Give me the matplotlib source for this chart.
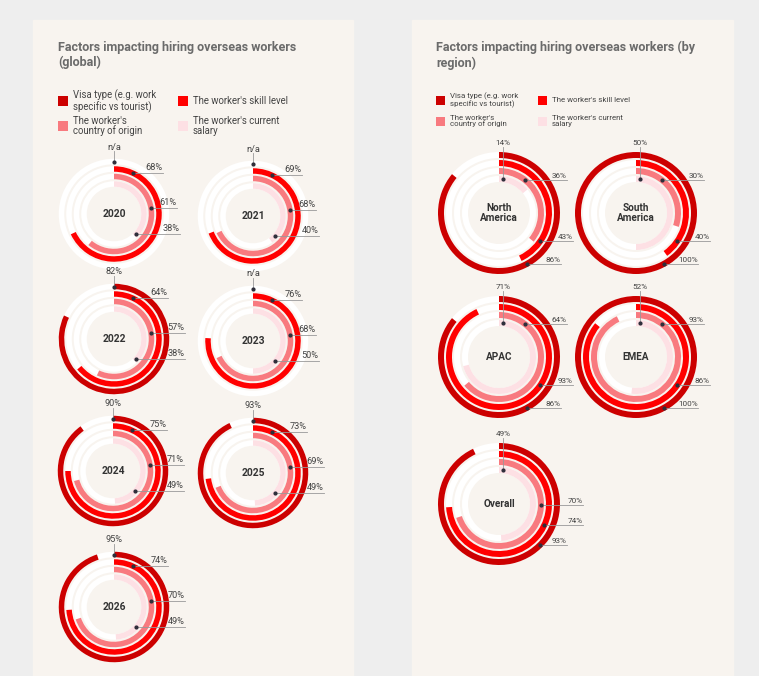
import numpy as np
import matplotlib
matplotlib.use('Agg')
import matplotlib.pyplot as plt
from matplotlib.patches import Wedge, Rectangle

plt.rcParams['font.family'] = ['Roboto', 'DejaVu Sans']

# data (None = n/a)
years = ['2020', '2021', '2022', '2023', '2024', '2025', '2026']
visa_global = [None, None, 82, None, 90, 93, 95]
skill_global = [68, 69, 64, 76, 75, 73, 74]
origin_global = [61, 68, 57, 68, 71, 69, 70]
salary_global = [38, 40, 38, 50, 49, 49, 49]

regions = ['North\nAmerica', 'South\nAmerica', 'APAC', 'EMEA', 'Overall']
visa_region = [86, 100, 86, 100, 93]
skill_region = [43, 40, 93, 86, 74]
origin_region = [36, 30, 64, 93, 70]
salary_region = [14, 50, 71, 52, 49]

series = ['Visa type (e.g. work\nspecific vs tourist)', "The worker's skill level",
          "The worker's\ncountry of origin", "The worker's current\nsalary"]
colors = ['#cc0000', '#ff0000', '#f87a7f', '#fde0e4']

BG = '#eeeeee'
PANEL = '#f8f4ef'
TXT = '#444444'

fig = plt.figure(figsize=(7.59, 6.76), dpi=100, facecolor=BG)
ax = fig.add_axes([0, 0, 1, 1])
ax.set_xlim(0, 759)
ax.set_ylim(676, 0)
ax.axis('off')

ax.add_patch(Rectangle((33, 20), 320, 660, color=PANEL, zorder=0))
ax.add_patch(Rectangle((412, 20), 321, 660, color=PANEL, zorder=0))


def fmt(v):
    return 'n/a' if v is None else f'{v}%'


def radial(cx, cy, vals, mids, width, center_label, top_ring, top_dx, top_dy,
           side_rings, side_dy, side_end, csize, lsize):
    # background tracks + value arcs, drawn clockwise from 12 o'clock
    for v, r, c in zip(vals, mids, colors):
        ax.add_patch(Wedge((cx, cy), r + width / 2, 0, 360, width=width,
                           color='white', lw=0, zorder=1))
        if v:
            ax.add_patch(Wedge((cx, cy), r + width / 2, 270, 270 + 3.6 * v,
                               width=width, color=c, lw=0, zorder=2))
    ax.text(cx, cy, center_label, ha='center', va='center', fontsize=csize,
            color='#333333', fontweight='bold', linespacing=1.0, zorder=5)

    # top label with vertical leader
    r = mids[top_ring]
    ty = cy - np.sqrt(r ** 2 - top_dx ** 2)
    ax.plot([cx + top_dx, cx + top_dx], [cy + top_dy + 4, ty], color='#999999',
            lw=0.6, zorder=3)
    ax.plot(cx + top_dx, ty, 'o', ms=2.0, color='#2e2e3a', zorder=4)
    ax.text(cx + top_dx, cy + top_dy, fmt(vals[top_ring]), ha='center',
            va='center', fontsize=lsize, color=TXT, zorder=5)

    # side labels with horizontal leaders
    for ring, dy, end in zip(side_rings, side_dy, side_end):
        r = mids[ring]
        dx = np.sqrt(r ** 2 - dy ** 2)
        ax.plot([cx + dx, cx + end], [cy + dy, cy + dy], color='#999999',
                lw=0.6, zorder=3)
        ax.plot(cx + dx, cy + dy, 'o', ms=2.0, color='#2e2e3a', zorder=4)
        ax.text(cx + end - 0.5, cy + dy - 1.0, fmt(vals[ring]), ha='right',
                va='bottom', fontsize=lsize, color=TXT, zorder=5)


# panel titles and legends
def panel_head(x, title, lsize, sq, col2, rows):
    ax.text(x, 41, title, ha='left', va='top', fontsize=9.0, fontweight='bold',
            color='#6b6b6b', linespacing=1.2)
    pos = [(x, rows[0]), (x + col2, rows[0]), (x, rows[1]), (x + col2, rows[1])]
    for (px, py), lab, c in zip(pos, series, colors):
        ax.add_patch(Rectangle((px, py - sq / 2), sq, sq, color=c, lw=0))
        ax.text(px + sq + 5, py, lab, ha='left', va='center', fontsize=lsize,
                color=TXT, linespacing=1.0)


panel_head(58, 'Factors impacting hiring overseas workers\n(global)', 6.9, 10, 120,
           [101, 126])
panel_head(436, 'Factors impacting hiring overseas workers (by\nregion)', 5.7, 9, 102,
           [100, 121])

# global charts
g_centers = [(114, 214), (253, 216), (114, 339), (253, 341),
             (113, 471), (253, 473), (114, 607)]
for i, (cx, cy) in enumerate(g_centers):
    vals = [visa_global[i], skill_global[i], origin_global[i], salary_global[i]]
    ends = [49, 63, 66] if visa_global[i] is None else [54, 71, 71]
    radial(cx, cy, vals, [52.5, 45, 37.5, 30], 5.5, years[i],
           0, 0, -67, [1, 2, 3], [-41, -6, 20], ends, 7.4, 6.6)

# regional charts
r_centers = [(499, 213), (636, 213), (499, 357), (636, 357), (499, 504)]
for i, (cx, cy) in enumerate(r_centers):
    vals = [visa_region[i], skill_region[i], origin_region[i], salary_region[i]]
    if regions[i] == 'Overall':
        dys, ends = [1, 21, 41], [84, 84, 68]
    else:
        dys, ends = [-33, 28, 51], [68, 74, 62]
    radial(cx, cy, vals, [58, 50, 42, 34], 6, regions[i],
           3, 4, -70, [2, 1, 0], dys, ends, 7.2, 5.9)

fig.savefig('out.png', dpi=100, facecolor=BG)
